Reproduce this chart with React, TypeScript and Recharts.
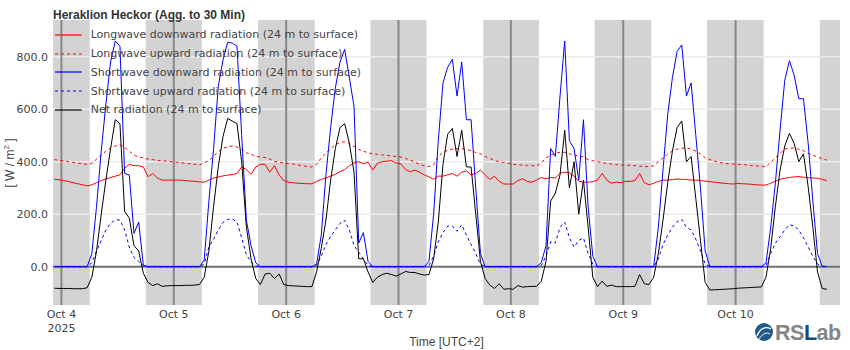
import React from 'react';
import {
  LineChart,
  Line,
  XAxis,
  YAxis,
  ReferenceArea,
  ReferenceLine,
} from 'recharts';

// hourly samples, first one at Oct 3 22:30 (UTC+2); t is hours since Oct 4 00:00
const startHour = -1.5;

const lwDown = [
  333, 331, 328, 325, 320, 316, 312, 308, 312, 320, 328, 335, 340, 345, 350, 375, 390, 385, 385, 380, 343, 355, 338, 330, 330, 330,
  330, 330, 328, 326, 325, 323, 322, 330, 338, 342, 346, 349, 351, 355, 380, 370, 352, 380, 390, 390, 360, 385, 350, 328,
  322, 320, 318, 317, 316, 316, 325, 332, 338, 345, 352, 362, 370, 385, 395, 400, 392, 398, 368, 395, 400, 402, 404, 395,
  392, 370, 362, 368, 360, 350, 342, 333, 345, 345, 350, 355, 345, 360, 365, 350, 355, 368, 350, 332, 345, 325, 315, 315,
  315, 328, 335, 325, 322, 330, 340, 335, 340, 338, 356, 360, 358, 345, 326, 322, 322, 324, 330, 355, 330, 318, 322, 320,
  325, 325, 328, 355, 320, 312, 318, 325, 330, 330, 332, 334, 333, 332, 330, 330, 328, 326, 324, 322, 320, 318, 316, 315,
  317, 316, 315, 314, 312, 311, 311, 318, 326, 333, 337, 340, 342, 343, 341, 339, 338, 337, 333, 328,
];

const lwUp = [
  408, 405, 403, 400, 397, 395, 392, 390, 393, 410, 425, 440, 452, 460, 464, 455, 440, 425, 418, 415, 410, 408, 405, 403, 402, 400,
  398, 396, 394, 392, 390, 388, 395, 405, 420, 438, 451, 457, 460, 456, 448, 434, 428, 421, 418, 416, 410, 401, 398, 395,
  393, 391, 388, 384, 382, 380, 390, 415, 432, 450, 465, 473, 476, 470, 458, 447, 440, 434, 430, 428, 426, 424, 422, 420,
  418, 412, 406, 398, 390, 384, 382, 388, 420, 435, 444, 448, 450, 450, 447, 442, 435, 430, 420, 413, 405, 400, 397, 394,
  390, 388, 387, 386, 385, 384, 395, 415, 425, 432, 436, 436, 430, 425, 422, 418, 408, 404, 400, 397, 393, 391, 389, 387,
  387, 386, 385, 383, 382, 381, 385, 400, 415, 430, 440, 448, 452, 452, 448, 440, 430, 415, 408, 402, 397, 394, 392, 391,
  390, 389, 387, 385, 384, 382, 381, 398, 415, 432, 448, 452, 452, 447, 442, 432, 425, 418, 412, 406,
];

const swDown = [
  0, 0, 0, 0, 0, 0, 0, 0, 50, 230, 440, 620, 780, 860, 840, 355, 350, 127, 170, 6, 0, 0, 0, 0, 0, 0,
  0, 0, 0, 0, 0, 0, 25, 250, 450, 686, 787, 855, 852, 840, 500, 178, 80, 15, 0, 0, 0, 0, 0, 0,
  0, 0, 0, 0, 0, 0, 10, 120, 350, 530, 680, 780, 828, 720, 610, 90, 130, 20, 0, 0, 0, 0, 0, 0,
  0, 0, 0, 0, 0, 0, 20, 200, 480, 700, 760, 790, 650, 780, 560, 560, 300, 50, 0, 0, 0, 0, 0, 0,
  0, 0, 0, 0, 0, 0, 15, 80, 450, 420, 650, 860, 480, 450, 330, 560, 229, 40, 0, 0, 0, 0, 0, 0,
  0, 0, 0, 0, 0, 0, 0, 150, 370, 580, 720, 820, 845, 650, 700, 500, 300, 60, 0, 0, 0, 0, 0, 0,
  0, 0, 0, 0, 0, 0, 15, 150, 320, 521, 710, 785, 730, 640, 640, 470, 250, 50, 2, 0,
];

const swUp = [
  0, 0, 0, 0, 0, 0, 0, 0, 15, 60, 100, 140, 165, 178, 178, 140, 75, 35, 20, 3, 0, 0, 0, 0, 0, 0,
  0, 0, 0, 0, 0, 0, 10, 75, 105, 140, 168, 180, 182, 170, 110, 45, 18, 3, 0, 0, 0, 0, 0, 0,
  0, 0, 0, 0, 0, 0, 5, 40, 85, 115, 140, 165, 177, 140, 80, 55, 30, 5, 0, 0, 0, 0, 0, 0,
  0, 0, 0, 0, 0, 0, 5, 40, 95, 130, 155, 155, 135, 160, 120, 85, 50, 10, 0, 0, 0, 0, 0, 0,
  0, 0, 0, 0, 0, 0, 5, 40, 95, 90, 150, 170, 110, 75, 100, 110, 50, 10, 0, 0, 0, 0, 0, 0,
  0, 0, 0, 0, 0, 0, 0, 30, 85, 120, 150, 172, 180, 150, 140, 105, 60, 10, 0, 0, 0, 0, 0, 0,
  0, 0, 0, 0, 0, 0, 5, 50, 90, 114, 140, 160, 155, 140, 110, 75, 40, 10, 0, 0,
];

const net = [
  -82, -83, -83, -83, -84, -84, -84, -80, -40, 60, 200, 330, 450, 560, 545, 210, 185, 80, 60, -25, -60, -72, -65, -75, -73, -72,
  -72, -72, -71, -71, -70, -68, -40, 60, 230, 380, 495, 565, 555, 545, 400, 152, 30, -45, -68, -28, -25, -45, -28, -68,
  -72, -73, -74, -75, -76, -76, -20, 70, 178, 330, 450, 530, 545, 470, 360, 30, 30, -20, -60, -40, -30, -25, -30, -36,
  -28, -18, -22, -22, -28, -32, -30, 30, 170, 390, 505, 527, 420, 520, 380, 380, 200, 20, -45, -70, -83, -65, -86, -84,
  -86, -72, -78, -76, -75, -75, -55, 20, 250, 280, 350, 520, 300, 400, 200, 330, 152, -40, -76, -55, -75, -70, -76, -76,
  -76, -76, -75, -30, -65, -68, -40, 50, 178, 320, 440, 530, 555, 400, 420, 260, 100, -60, -89, -88, -87, -86, -85, -84,
  -82, -81, -80, -79, -78, -77, -40, 70, 230, 368, 460, 508, 470, 400, 430, 305, 150, -20, -83, -86,
];

const hours = lwDown.map((_, i) => startHour + i);
const data = hours.map((t, i) => ({
  t,
  lwDown: lwDown[i],
  lwUp: lwUp[i],
  swDown: swDown[i],
  swUp: swUp[i],
  net: net[i],
}));

const dayTicks = [0, 24, 48, 72, 96, 120, 144];
const dayLabels = ['Oct 4', 'Oct 5', 'Oct 6', 'Oct 7', 'Oct 8', 'Oct 9', 'Oct 10'];
const yTicks = [0, 200, 400, 600, 800];

// shaded night time (hours since Oct 4 00:00)
const nightStart = [-1.8, 18, 42, 66, 90.1, 113.9, 137.9, 162];
const nightEnd = [6.05, 30, 54.1, 78, 102, 126, 150, 166.3];

const series = [
  { key: 'lwDown', name: 'Longwave downward radiation (24 m to surface)', color: '#ff0000', dash: undefined },
  { key: 'lwUp', name: 'Longwave upward radiation (24 m to surface)', color: '#ff0000', dash: '3 3' },
  { key: 'swDown', name: 'Shortwave downward radiation (24 m to surface)', color: '#0000ff', dash: undefined },
  { key: 'swUp', name: 'Shortwave upward radiation (24 m to surface)', color: '#0000ff', dash: '3 3' },
  { key: 'net', name: 'Net radiation (24 m to surface)', color: '#000000', dash: undefined },
];

const tickFont = 'DejaVu Sans, Verdana, sans-serif';
const titleFont = 'Liberation Sans, Arial, sans-serif';

const DayTick = (props: any) => {
  const { x, y, payload } = props;
  const i = dayTicks.indexOf(payload.value);
  return (
    <g>
      <text x={x} y={y + 13} textAnchor="middle" fill="#444" fontSize={11} fontFamily={tickFont}>
        {dayLabels[i]}
      </text>
      {i === 0 && (
        <text x={x} y={y + 26.5} textAnchor="middle" fill="#444" fontSize={11} fontFamily={tickFont}>
          2025
        </text>
      )}
    </g>
  );
};

export default function App() {
  return (
    <div style={{ position: 'absolute', left: 0, top: 0, width: 850, height: 350, background: '#fff' }}>
      <LineChart
        width={850}
        height={350}
        data={data}
        margin={{ top: 20, right: 10, bottom: 0, left: 0 }}
      >
        <XAxis
          dataKey="t"
          type="number"
          domain={[-1.8, 166.3]}
          ticks={dayTicks}
          tick={<DayTick />}
          tickSize={0}
          tickMargin={0}
          axisLine={false}
          tickLine={false}
          height={45}
          allowDataOverflow
          label={{ value: 'Time [UTC+2]', position: 'insideBottom', offset: 4, fill: '#444', fontSize: 12, fontFamily: titleFont }}
        />
        <YAxis
          type="number"
          domain={[-146, 940]}
          ticks={yTicks}
          tickFormatter={(v: number) => v.toFixed(1)}
          tick={{ fill: '#444', fontSize: 11, fontFamily: tickFont }}
          tickSize={0}
          tickMargin={5}
          axisLine={false}
          tickLine={false}
          width={53}
          allowDataOverflow
        />
        {nightStart.map((s, i) => (
          <ReferenceArea key={'n' + i} x1={s} x2={nightEnd[i]} fill="#d3d3d3" fillOpacity={1} stroke="none" />
        ))}
        {yTicks.slice(1).map((v) => (
          <ReferenceLine key={'g' + v} y={v} stroke="#ececec" strokeWidth={1.5} />
        ))}
        {dayTicks.map((d) => (
          <ReferenceLine key={'d' + d} x={d} stroke="#888" strokeWidth={2} />
        ))}
        <ReferenceLine y={0} stroke="#707070" strokeWidth={2} />
        {series.map((s) => (
          <Line
            key={s.key}
            dataKey={s.key}
            name={s.name}
            type="linear"
            stroke={s.color}
            strokeWidth={1}
            strokeDasharray={s.dash}
            dot={false}
            isAnimationActive={false}
          />
        ))}
      </LineChart>

      {/* legend */}
      <div
        style={{
          position: 'absolute',
          left: 53,
          top: 25.6,
          fontFamily: tickFont,
          fontSize: 11,
          color: '#444',
          pointerEvents: 'none',
        }}
      >
        {series.map((s) => (
          <div key={s.key} style={{ display: 'flex', alignItems: 'center', height: 18.75, whiteSpace: 'nowrap' }}>
            <svg width={37.7} height={10} style={{ flex: 'none' }}>
              <line x1={2} y1={5} x2={28.7} y2={5} stroke={s.color} strokeWidth={1.2} strokeDasharray={s.dash} />
            </svg>
            <span>{s.name}</span>
          </div>
        ))}
      </div>

      {/* title, y axis title, logo */}
      <svg width={850} height={350} style={{ position: 'absolute', left: 0, top: 0, pointerEvents: 'none' }}>
        <text x={53} y={19} fontFamily={titleFont} fontWeight="bold" fontSize={12} fill="#333">
          Heraklion Heckor (Agg. to 30 Min)
        </text>
        <text
          transform="translate(14, 163) rotate(-90)"
          textAnchor="middle"
          fontFamily={titleFont}
          fontSize={12}
          fill="#444"
        >
          [ W / m<tspan fontSize={8} dy={-5}>2</tspan>
          <tspan dy={5}> ]</tspan>
        </text>
        <circle cx={764} cy={332} r={9} fill="#1f5a88" />
        <path d="M757 336 C 760 328, 766 326, 771 329" stroke="#fff" strokeWidth={1.3} fill="none" />
        <path d="M759 339 C 763 333, 767 332, 770 334" stroke="#fff" strokeWidth={1} fill="none" />
        <text x={775} y={339.5} fontFamily={titleFont} fontWeight="bold" fontSize={21.5} letterSpacing={-0.5}>
          <tspan fill="#858585">RS</tspan>
          <tspan fill="#1c4a73">L</tspan>
          <tspan fill="#858585">ab</tspan>
        </text>
      </svg>
    </div>
  );
}
